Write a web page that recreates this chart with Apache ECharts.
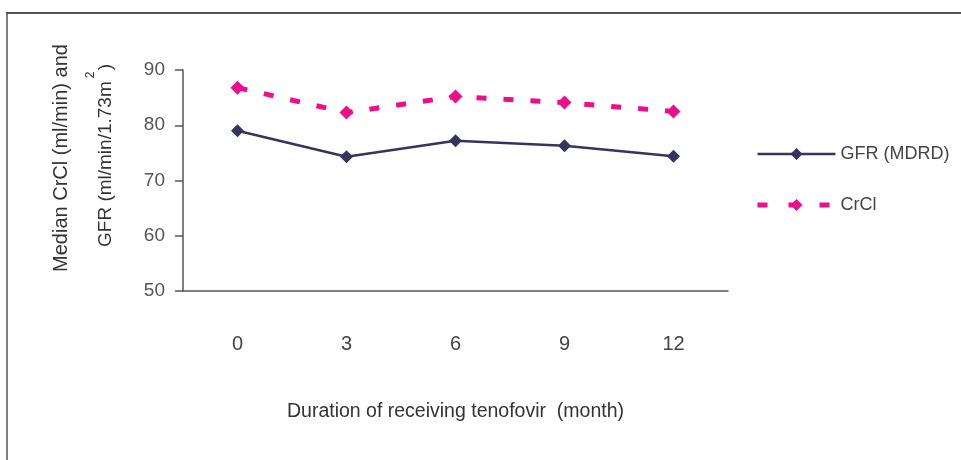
<!DOCTYPE html>
<html>
<head>
<meta charset="utf-8">
<script src="https://cdn.jsdelivr.net/npm/echarts@6/dist/echarts.min.js"></script>
<style>
  html, body { margin: 0; padding: 0; background: #fff; }
  #chart { width: 961px; height: 460px; }
</style>
</head>
<body>
<div id="chart"></div>
<script>
// months on treatment
const months = ['0', '3', '6', '9', '12'];
// median values
const gfrMdrd = [79.0, 74.3, 77.2, 76.3, 74.4];
const crcl = [86.8, 82.3, 85.2, 84.1, 82.5];

const navy = '#34345f';
const pink = '#ec0e8a';
const axisGrey = '#555';
const sans = '"Liberation Sans", Arial, sans-serif';

const myChart = echarts.init(document.getElementById('chart'), null, { renderer: 'canvas' });

const option = {
  animation: false,
  backgroundColor: '#fff',
  grid: { left: 183, right: 233, top: 70, bottom: 169 },
  legend: {
    orient: 'vertical',
    left: 755,
    top: 145,
    padding: 0,
    itemWidth: 78,
    itemHeight: 15,
    itemGap: 33,
    textStyle: { fontFamily: sans, fontSize: 18, color: '#444' },
    data: [
      { name: 'GFR (MDRD)', lineStyle: { width: 2.5 } },
      { name: 'CrCl', lineStyle: { width: 5, type: [10, 21] } }
    ]
  },
  xAxis: {
    type: 'category',
    data: months,
    boundaryGap: true,
    axisLine: { lineStyle: { color: axisGrey, width: 1.5 } },
    axisTick: { show: false },
    axisLabel: { margin: 43, fontFamily: sans, fontSize: 20, color: '#444' },
    name: 'Duration of receiving tenofovir  (month)',
    nameLocation: 'middle',
    nameGap: 111,
    nameTextStyle: { fontFamily: sans, fontSize: 19.5, color: '#333' }
  },
  yAxis: {
    type: 'value',
    min: 50,
    max: 90,
    interval: 10,
    splitLine: { show: false },
    axisLine: { show: true, lineStyle: { color: axisGrey, width: 1.5 } },
    axisTick: { show: true, length: 8, lineStyle: { color: axisGrey, width: 1.5 } },
    axisLabel: { margin: 18, fontFamily: sans, fontSize: 19, color: '#555' }
  },
  series: [
    {
      name: 'GFR (MDRD)',
      type: 'line',
      data: gfrMdrd,
      symbol: 'diamond',
      symbolSize: 13,
      lineStyle: { color: navy, width: 2.5 },
      itemStyle: { color: navy }
    },
    {
      name: 'CrCl',
      type: 'line',
      data: crcl,
      symbol: 'diamond',
      symbolSize: 14,
      lineStyle: { color: pink, width: 5, type: [10, 17] },
      itemStyle: { color: pink }
    }
  ],
  graphic: [
    // page frame
    { type: 'line', shape: { x1: 6, y1: 13, x2: 961, y2: 13 }, style: { stroke: '#555', lineWidth: 2 } },
    { type: 'line', shape: { x1: 7, y1: 13, x2: 7, y2: 460 }, style: { stroke: '#555', lineWidth: 1.5 } },
    // y axis title, two rotated lines
    {
      type: 'text', x: 61, y: 158, rotation: Math.PI / 2,
      style: { text: 'Median CrCl (ml/min) and', font: '20px ' + sans, fill: '#333', align: 'center', verticalAlign: 'middle' }
    },
    {
      type: 'text', x: 106, y: 247, rotation: Math.PI / 2,
      style: { text: 'GFR (ml/min/1.73m', font: '19px ' + sans, fill: '#333', align: 'left', verticalAlign: 'middle' }
    },
    {
      type: 'text', x: 91, y: 75, rotation: Math.PI / 2,
      style: { text: '2', font: '12px ' + sans, fill: '#333', align: 'center', verticalAlign: 'middle' }
    },
    {
      type: 'text', x: 106, y: 67, rotation: Math.PI / 2,
      style: { text: ')', font: '19px ' + sans, fill: '#333', align: 'center', verticalAlign: 'middle' }
    }
  ]
};

myChart.setOption(option);
window.addEventListener('resize', myChart.resize);
</script>
</body>
</html>
